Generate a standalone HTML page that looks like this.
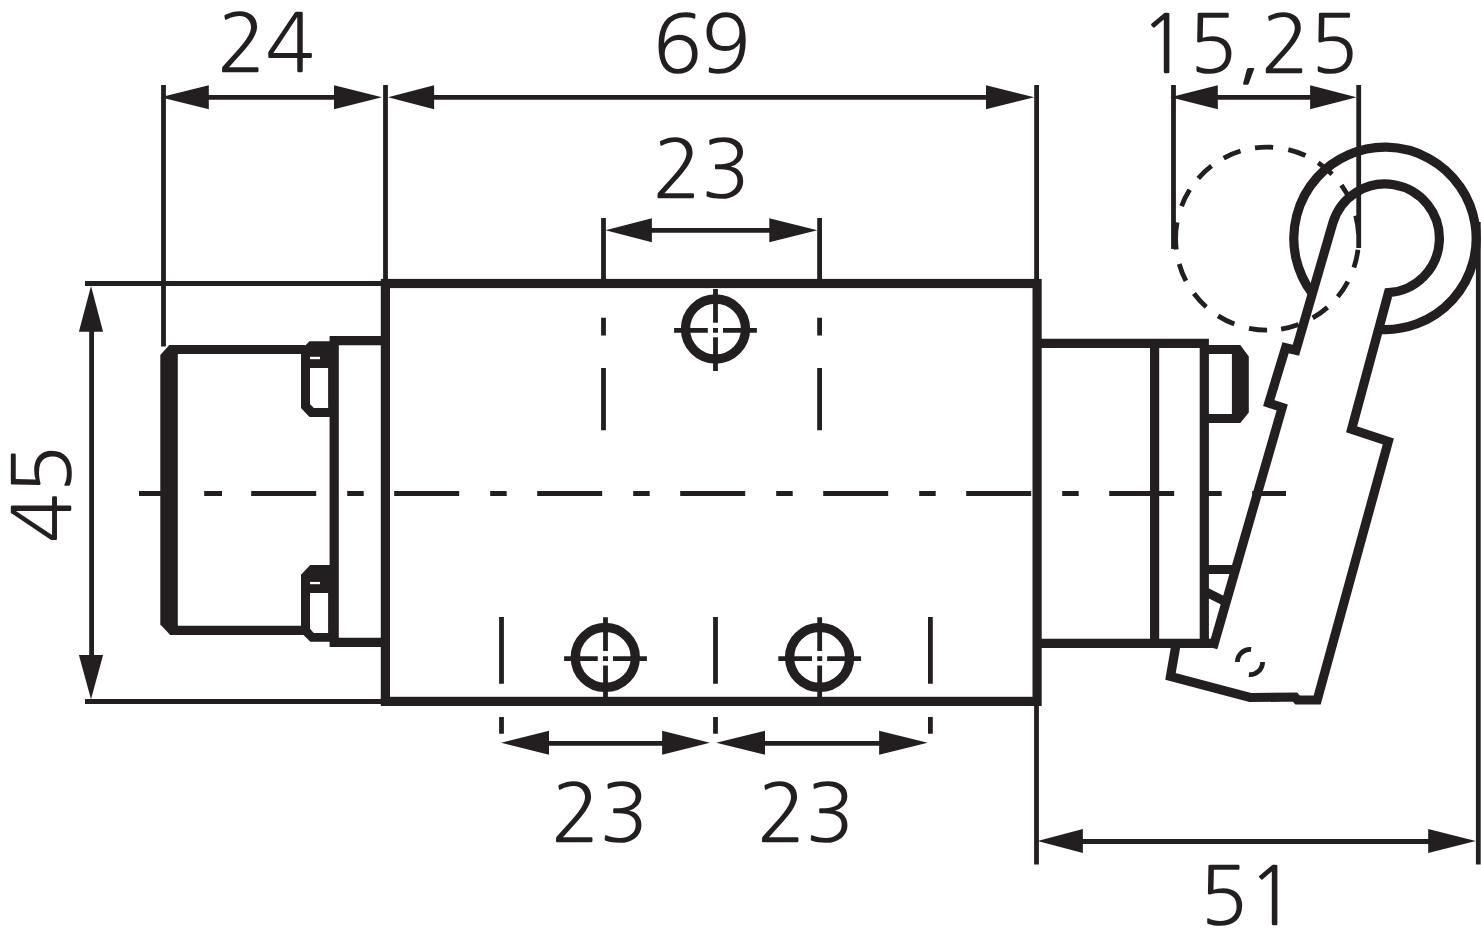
<!DOCTYPE html>
<html lang="de">
<head>
<meta charset="utf-8">
<meta name="viewport" content="width=1481">
<title>Ma&szlig;zeichnung</title>
<style>
html,body{margin:0;padding:0;background:#fff;}
body{width:1481px;height:944px;overflow:hidden;}
figure{margin:0;padding:0;width:1481px;height:944px;}
svg{display:block;}
.d .t,.d .k,.d .h{fill:none;stroke:#231f20;stroke-linecap:butt;stroke-linejoin:miter;stroke-miterlimit:10;}
.d .t{stroke-width:4.8px;}
.d .k{stroke-width:9.2px;}
.d .h{stroke-width:9.3px;}
.d .f{fill:#231f20;stroke:none;}
.d .w{fill:#fff;stroke:none;}
.d text{font-family:"NanumGothic","Liberation Sans",sans-serif;font-weight:400;font-size:81px;letter-spacing:-0.5px;fill:#231f20;stroke:none;text-rendering:geometricPrecision;}
</style>
</head>
<body>
<figure>
<svg class="d" width="1481" height="944" viewBox="0 0 1481 944" role="img" aria-label="Ma&szlig;zeichnung">
<rect class="w" x="0" y="0" width="1481" height="944"/>
<!-- dimension 24 -->
<g>
<line class="t" x1="163.5" y1="85.1" x2="163.5" y2="346.5"/>
<line class="t" x1="385.5" y1="85.1" x2="385.5" y2="283"/>
<line class="t" x1="205" y1="97.3" x2="338" y2="97.3"/>
<polygon class="f" points="160.5,97.3 208.8,85.3 208.8,109.3"/>
<polygon class="f" points="382,97.3 334,85.3 334,109.3"/>
<text x="217" y="72">24</text>
</g>
<!-- dimension 69 -->
<g>
<line class="t" x1="1036.6" y1="85.1" x2="1036.6" y2="283"/>
<line class="t" x1="430" y1="97.3" x2="990" y2="97.3"/>
<polygon class="f" points="388,97.3 434.1,85.3 434.1,109.3"/>
<polygon class="f" points="1034.3,97.3 986,85.3 986,109.3"/>
<text x="653" y="73.2">69</text>
</g>
<!-- dimension 23 (top) -->
<g>
<line class="t" x1="603.5" y1="218" x2="603.5" y2="283"/>
<line class="t" x1="819.6" y1="218" x2="819.6" y2="283"/>
<line class="t" x1="648" y1="230.3" x2="773" y2="230.3"/>
<polygon class="f" points="605.5,230.2 651.9,218.2 651.9,242.2"/>
<polygon class="f" points="817.3,230.2 769.3,218.2 769.3,242.2"/>
<text x="652.6" y="197.7">23</text>
</g>
<!-- dimension 15,25 -->
<g>
<line class="t" x1="1173.5" y1="85.1" x2="1173.5" y2="249"/>
<line class="t" x1="1358.7" y1="85.1" x2="1358.7" y2="248"/>
<line class="t" x1="1214" y1="97.3" x2="1314" y2="97.3"/>
<polygon class="f" points="1170.3,97.3 1217.8,85.3 1217.8,109.3"/>
<polygon class="f" points="1356.5,97.3 1310.1,85.3 1310.1,109.3"/>
<text x="1139.6" y="72.5">15,25</text>
</g>
<!-- dimension 45 -->
<g>
<line class="t" x1="85" y1="283.5" x2="385" y2="283.5"/>
<line class="t" x1="85" y1="701.5" x2="385" y2="701.5"/>
<line class="t" x1="91.6" y1="328" x2="91.6" y2="659"/>
<polygon class="f" points="91,285.9 78.9,331.8 103.1,331.8"/>
<polygon class="f" points="91,699.2 78.9,655.1 103.1,655.1"/>
<text x="71" y="542.7" transform="rotate(-90 71 542.7)">45</text>
</g>
<!-- dimensions 23 / 23 (bottom) -->
<g>
<line class="t" x1="545" y1="743.3" x2="666" y2="743.3"/>
<line class="t" x1="761" y1="743.3" x2="883" y2="743.3"/>
<polygon class="f" points="501.1,742.8 549,730.8 549,754.8"/>
<polygon class="f" points="710,742.8 662.1,730.8 662.1,754.8"/>
<polygon class="f" points="716.2,742.8 765,730.8 765,754.8"/>
<polygon class="f" points="927.7,742.8 879.1,730.8 879.1,754.8"/>
<text x="551" y="842">23</text>
<text x="757" y="842">23</text>
</g>
<!-- dimension 51 -->
<g>
<line class="t" x1="1036.5" y1="702" x2="1036.5" y2="864.6"/>
<line class="t" x1="1478.3" y1="222" x2="1478.3" y2="864.6"/>
<line class="t" x1="1079" y1="841.5" x2="1432" y2="841.5"/>
<polygon class="f" points="1037.5,841 1082.9,829 1082.9,853"/>
<polygon class="f" points="1475.8,841 1428.2,829 1428.2,853"/>
<text x="1198.9" y="925.4">51</text>
</g>
<!-- centre lines -->
<g>
<path class="t" d="M139 493.5H174M204.2 493.5H222"/>
<path class="t" d="M251.2 493.5H1286" stroke-dasharray="65 31 16.5 30.5"/>
<path class="t" d="M603.5 317.8V335.4M603.5 368V430.3"/>
<path class="t" d="M819.6 317.8V335.4M819.6 368V430.3"/>
<path class="t" d="M501.5 617V683.7M501.5 717V733.7"/>
<path class="t" d="M715.5 617V683.7M715.5 717V733.7"/>
<path class="t" d="M930.4 617V683.7M930.4 717V733.7"/>
</g>
<!-- mounting holes -->
<g>
<circle class="h" cx="715.5" cy="329" r="30"/>
<path class="t" d="M674.1 330.4H707.8M723 330.4H756.9M715.5 289V322.8M715.5 337.3V371M713 330.4H718"/>
<circle class="h" cx="605.3" cy="657.4" r="30"/>
<path class="t" d="M564.1 658.6H597.8M613 658.6H646.9M605.5 617.2V651M605.5 665.5V699.2M603 658.6H608"/>
<circle class="h" cx="819.6" cy="657.4" r="30"/>
<path class="t" d="M778.3 658.6H812M827.2 658.6H861.1M819.7 617.2V651M819.7 665.5V699.2M817.2 658.6H822.2"/>
</g>
<!-- valve body -->
<g>
<rect class="k" x="385.4" y="283.5" width="651.7" height="417.9"/>
</g>
<!-- left end cap with screws -->
<g>
<polygon class="f" points="160.3,355 169.3,345.1 177.8,345.1 177.8,634.9 170.3,634.9 160.3,624.4"/>
<path class="k" d="M170 349.5H305M170 630.4H305"/>
<path class="k" d="M381 340.7H334.2V642.4H381"/>
<polygon class="f" points="309.5,341.2 330,341.2 330,417 309.5,417 301,408.1 301,349.7"/>
<polygon class="w" points="310,368 328.1,368 328.1,408.1 313.8,408.1 310,403.9"/>
<polygon class="w" points="310,356.8 320,356.8 320,359.2 310,359.2"/>
<polygon class="f" points="310.3,565.1 330,565.1 330,641.7 310.3,641.7 301,632.4 301,574.7"/>
<polygon class="w" points="310,592.9 328.1,592.9 328.1,632.9 313.8,632.9 310,628.7"/>
<polygon class="w" points="310,581.9 320,581.9 320,584.2 310,584.2"/>
</g>
<!-- right actuator head -->
<g>
<path class="k" d="M1037 343.3H1204.3V643.4H1037"/>
<path class="k" d="M1154.6 343.3V643.4"/>
<polygon class="f" points="1204,345.1 1240.3,345.1 1248.8,356.4 1248.8,412.4 1240.3,422.9 1204,422.9 1204,414.1 1231.9,414.1 1231.9,353.9 1204,353.9"/>
<path class="k" d="M1204 569.5H1235M1204 591L1226 602M1204 643.4H1212"/>
</g>
<!-- roller in actuated position (dashed) -->
<g>
<path class="t" d="M1357.92 249.75A91.5 91.5 0 0 1 1353.92 267.48M1347.89 281.56A91.5 91.5 0 0 1 1337.81 296.68M1327.49 307.34A91.5 91.5 0 0 1 1312.71 317.92M1298.69 324.47A91.5 91.5 0 0 1 1281.1 329.02M1267.1 330.1A91.5 91.5 0 0 1 1249.01 328.29M1234.31 324.02A91.5 91.5 0 0 1 1218.07 315.86M1206.23 306.92A91.5 91.5 0 0 1 1193.93 293.54M1185.94 280.85A91.5 91.5 0 0 1 1179.19 263.97M1181.56 206.11A91.5 91.5 0 0 1 1189.67 189.84M1198.25 178.33A91.5 91.5 0 0 1 1211.53 165.91M1223.72 158.04A91.5 91.5 0 0 1 1240.5 151.05M1255 147.9A91.5 91.5 0 0 1 1273.16 147.3M1288.3 149.59A91.5 91.5 0 0 1 1305.48 155.54M1318.13 162.65A91.5 91.5 0 0 1 1332.14 174.24M1341.41 185.21A91.5 91.5 0 0 1 1350.49 200.95M1355.69 215.69A91.5 91.5 0 0 1 1358.47 233.65M1176.24 249.43A91.5 91.5 0 0 1 1177.05 222.4"/>
</g>
<!-- roller lever -->
<g>
<path class="k" d="M1312.36 293.55A91.2 91.2 0 1 1 1378.59 329.37"/>
<path class="k" d="M1176.2 643.4L1170.5 676.5L1250 697.5L1295 697L1297.5 700L1317.2 700L1388.3 441.4L1351.6 429.3L1388.5 292.69A54.4 54.4 0 1 0 1332.78 223.15L1295.9 350.3L1285.6 347.7L1268.8 403L1282.2 407.4L1212.9 648"/>
<path class="t" d="M1237.4 662A12.6 12.6 0 0 1 1251.1 649.45M1262.6 662A12.6 12.6 0 0 1 1248.9 674.55"/>
</g>
</svg>
</figure>
</body>
</html>
